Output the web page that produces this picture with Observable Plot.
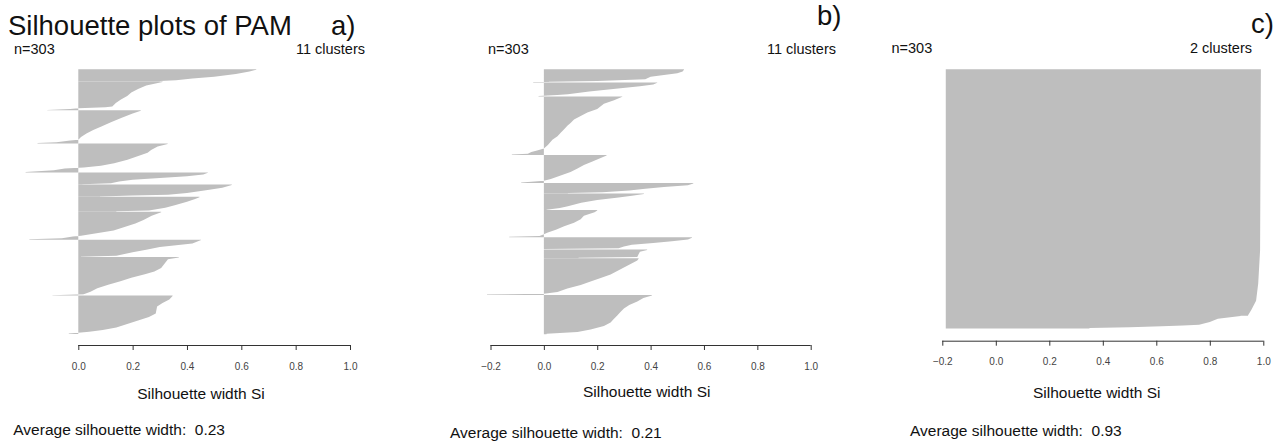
<!DOCTYPE html>
<html><head><meta charset="utf-8">
<script src="https://cdn.jsdelivr.net/npm/d3@7"></script>
<script src="https://cdn.jsdelivr.net/npm/@observablehq/plot@0.6"></script>
<style>
body{margin:0;background:#fff;font-family:"Liberation Sans",Arial,sans-serif;}
#root{position:relative;width:1274px;height:444px;overflow:hidden;background:#fff;}
.t{position:absolute;white-space:pre;line-height:1;color:#111;}
</style></head><body><div id="root"></div>
<script>
// ---------------- data ----------------
const nObs = [303, 303, 303];
const clusterCounts = [11, 11, 2];
const avgWidth = ["0.23", "0.21", "0.93"];
const panelTags = ["a)", "b)", "c)"];
const ticksA = [0, 0.2, 0.4, 0.6, 0.8, 1.0];
const ticksBC = [-0.2, 0, 0.2, 0.4, 0.6, 0.8, 1.0];

// cluster sizes (observations per cluster, top to bottom)
const sizesA = [14, 33, 38, 33, 14, 14, 17, 32, 20, 44, 44];
const sizesB = [15, 16, 67, 32, 12, 19, 31, 14, 10, 42, 45];
const sizesC = [288, 15];

// silhouette widths read at [rank within cluster, width]
const silA = [
  [[0,0.655],[2,0.63],[5,0.58],[8,0.50],[10,0.42],[12,0.36],[13,0.30]],
  [[0,0.31],[4,0.25],[8,0.22],[12,0.195],[16,0.18],[20,0.157],[24,0.138],[28,0.125],[29,0.10],[30,0.0],[31,-0.03],[32,-0.114]],
  [[0,0.23],[3,0.20],[8,0.16],[13,0.12],[18,0.085],[22,0.055],[26,0.03],[30,0.01],[33,0.0],[34,-0.03],[36,-0.08],[37,-0.15]],
  [[0,0.329],[3,0.292],[7,0.268],[10,0.255],[14,0.218],[18,0.181],[22,0.132],[25,0.083],[27,0.02],[28,-0.05],[30,-0.09],[32,-0.194]],
  [[0,0.477],[2,0.46],[4,0.40],[6,0.30],[8,0.20],[10,0.15],[12,0.12],[13,0.015]],
  [[0,0.565],[3,0.53],[6,0.47],[9,0.40],[11,0.33],[12,0.2],[13,0.08]],
  [[0,0.446],[2,0.43],[5,0.40],[9,0.355],[12,0.32],[15,0.26],[16,0.14]],
  [[0,0.305],[4,0.27],[9,0.24],[13,0.21],[17,0.17],[21,0.13],[23,0.09],[25,0.05],[27,0.01],[28,-0.02],[30,-0.06],[31,-0.18]],
  [[0,0.452],[4,0.42],[6,0.36],[8,0.30],[11,0.25],[14,0.20],[18,0.14],[19,0.01]],
  [[0,0.37],[2,0.33],[6,0.32],[12,0.305],[16,0.28],[19,0.245],[23,0.195],[27,0.155],[31,0.11],[35,0.07],[39,0.045],[42,0.02],[43,-0.095]],
  [[0,0.347],[4,0.335],[8,0.31],[12,0.29],[20,0.285],[24,0.26],[28,0.22],[32,0.18],[36,0.14],[39,0.09],[41,0.04],[42,0.0],[43,-0.035]]
];
const silB = [
  [[0,0.525],[2,0.52],[4,0.50],[6,0.45],[8,0.40],[11,0.38],[13,0.2],[14,-0.04]],
  [[0,0.425],[2,0.41],[4,0.36],[7,0.26],[10,0.17],[13,0.09],[14,0.05],[15,-0.02]],
  [[0,0.294],[4,0.263],[8,0.225],[14,0.20],[18,0.163],[22,0.138],[26,0.113],[30,0.10],[33,0.088],[37,0.076],[41,0.063],[45,0.051],[49,0.032],[55,0.015],[59,0.0],[61,-0.022],[63,-0.047],[65,-0.06],[66,-0.12]],
  [[0,0.235],[3,0.213],[7,0.182],[11,0.15],[15,0.126],[19,0.10],[23,0.063],[27,0.026],[29,0.0],[30,-0.047],[31,-0.085]],
  [[0,0.56],[2,0.54],[4,0.45],[6,0.38],[8,0.32],[10,0.22],[11,0.09]],
  [[0,0.375],[2,0.33],[4,0.28],[7,0.2],[10,0.14],[14,0.09],[16,0.06],[18,0.01]],
  [[0,0.20],[2,0.19],[6,0.15],[10,0.138],[14,0.113],[18,0.076],[22,0.045],[25,0.015],[27,0.0],[29,-0.016],[30,-0.13]],
  [[0,0.555],[2,0.54],[4,0.48],[6,0.41],[8,0.33],[10,0.30],[12,0.28],[13,0.0]],
  [[0,0.387],[2,0.36],[5,0.355],[8,0.35],[9,0.13]],
  [[0,0.355],[2,0.35],[6,0.325],[10,0.30],[14,0.275],[18,0.25],[22,0.213],[26,0.175],[30,0.138],[34,0.088],[38,0.051],[40,0.0],[41,-0.213]],
  [[0,0.405],[3,0.373],[7,0.35],[11,0.32],[15,0.30],[19,0.287],[23,0.275],[27,0.262],[31,0.25],[35,0.225],[39,0.175],[42,0.126],[44,0.01]]
];
const silC = [
  [[0,0.991],[211,0.988],[250,0.981],[270,0.973],[281,0.955],[287,0.943]],
  [[0,0.915],[3,0.83],[7,0.80],[10,0.76],[11,0.70],[12,0.62],[13,0.50],[14,0.35]]
];
const barBase = [0, 0, -0.187];

// ---------------- layout ----------------
const root = document.getElementById("root");
const FS = {title: 27.5, sub: 14.5, lab: 15.5};
function txt(str, x, baseline, size, align = "left") {
  const d = document.createElement("div");
  d.className = "t";
  d.textContent = str;
  d.style.fontSize = size + "px";
  d.style.top = (baseline - 0.8465 * size) + "px";
  if (align === "left") d.style.left = x + "px";
  else if (align === "right") d.style.right = (1274 - x) + "px";
  else { d.style.left = x + "px"; d.style.transform = "translateX(-50%)"; }
  root.appendChild(d);
}

const panels = [
  {sizes: sizesA, sil: silA, ticks: ticksA, base: barBase[0], left: 0, w: 440, x0: 78.3, x1: 350, top: 69.3, bottom: 334, axisY: 345, crisp: false},
  {sizes: sizesB, sil: silB, ticks: ticksBC, base: barBase[1], left: 440, w: 440, x0: 490.5, x1: 810.7, top: 69.3, bottom: 334.3, axisY: 345, crisp: false},
  {sizes: sizesC, sil: silC, ticks: ticksBC, base: barBase[2], left: 880, w: 394, x0: 942.3, x1: 1263.3, top: 69.3, bottom: 328.5, axisY: 340.7, crisp: true}
];

panels.forEach((cfg) => {
  const rows = [];
  let off = 0;
  cfg.sizes.forEach((n, k) => {
    const prof = cfg.sil[k];
    rows.push({c: k, y: off, s: prof[0][1]});
    for (const [r, s] of prof) rows.push({c: k, y: off + r + 0.5, s});
    rows.push({c: k, y: off + n, s: prof[prof.length - 1][1]});
    off += n;
  });
  const N = off;
  const D = N * (cfg.axisY - cfg.top) / (cfg.bottom - cfg.top);
  const svg = Plot.plot({
    width: cfg.w,
    height: 444,
    marginLeft: cfg.x0 - cfg.left,
    marginRight: cfg.left + cfg.w - cfg.x1,
    marginTop: cfg.top,
    marginBottom: 444 - cfg.axisY,
    style: {background: "transparent", fontFamily: "Liberation Sans, Arial, sans-serif"},
    x: {domain: [cfg.ticks[0], 1], label: null},
    y: {domain: [0, D], reverse: true, axis: null},
    marks: [
      Plot.areaX(rows, {y: "y", x1: cfg.base, x2: "s", z: cfg.crisp ? null : "c", fill: "#bebebe", curve: "linear"}),
      Plot.ruleY([D], {x1: cfg.ticks[0], x2: 1, stroke: "#333", strokeWidth: 1}),
      Plot.axisX(cfg.ticks, {tickSize: 5, tickPadding: 12, fontSize: 10, tickFormat: d3.format(".1f"), stroke: "#333", fill: "#444", label: null})
    ]
  });
  svg.style.position = "absolute";
  svg.style.left = cfg.left + "px";
  svg.style.top = "0px";
  root.appendChild(svg);
});

// ---------------- texts ----------------
txt("Silhouette plots of PAM", 8, 35, FS.title);
txt(panelTags[0], 331, 35, FS.title);
txt(panelTags[1], 817, 25, FS.title);
txt(panelTags[2], 1251, 33, FS.title);

const nX = [14, 488, 891.5], nB = [54, 54.5, 53.3];
const cR = [365, 836, 1252];
nObs.forEach((n, i) => {
  txt("n=" + n, nX[i], nB[i], FS.sub);
  txt(clusterCounts[i] + " clusters", cR[i], nB[i], FS.sub, "right");
});

const labC = [201, 646.7, 1096.7], labB = [399, 396.7, 398.3];
const avX = [13.3, 450, 910], avB = [435, 438, 436.5];
avgWidth.forEach((a, i) => {
  txt("Silhouette width Si", labC[i], labB[i], FS.lab, "center");
  txt("Average silhouette width:  " + a, avX[i], avB[i], FS.lab);
});
</script></body></html>
